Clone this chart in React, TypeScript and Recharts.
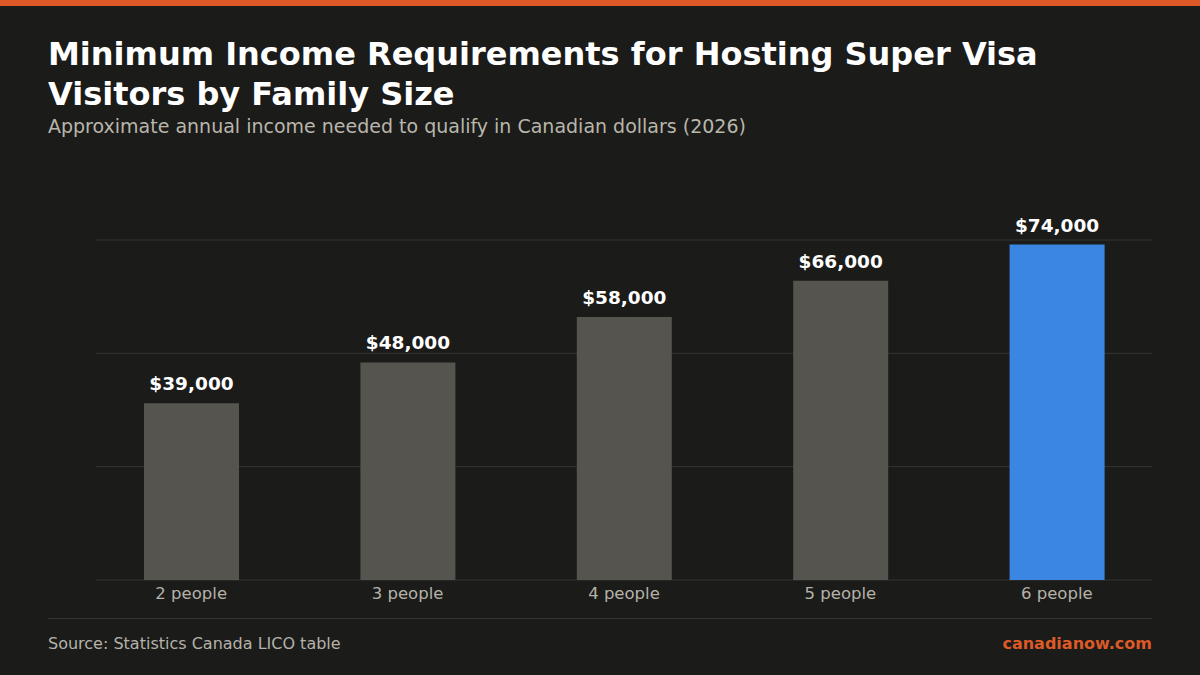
import { BarChart, Bar, XAxis, YAxis, CartesianGrid, Cell, LabelList } from "recharts";

const categories = ["2 people", "3 people", "4 people", "5 people", "6 people"];
const incomes = [39000, 48000, 58000, 66000, 74000];
const highlightIndex = 4;
const yTicks = [0, 25000, 50000, 75000];

const data = categories.map((name, i) => ({ name, income: incomes[i] }));

const BG = "#1b1b19";
const ORANGE = "#dd5a26";
const FONT = "'DejaVu Sans', sans-serif";

if (typeof document !== "undefined") {
  document.body.style.margin = "0";
  document.body.style.background = BG;
}

const fmt = (v: number) => "$" + v.toLocaleString("en-US");

export default function App() {
  return (
    <div style={{ position: "relative", width: 1200, height: 675, background: BG, fontFamily: FONT, overflow: "hidden" }}>
      <div style={{ position: "absolute", top: 0, left: 0, width: 1200, height: 6, background: ORANGE }} />
      <div
        style={{
          position: "absolute",
          left: 48,
          top: 34,
          width: 1080,
          color: "#ffffff",
          fontWeight: "bold",
          fontSize: 32,
          lineHeight: "40px",
        }}
      >
        Minimum Income Requirements for Hosting Super Visa Visitors by Family Size
      </div>
      <div style={{ position: "absolute", left: 48, top: 115, color: "#b9b6ac", fontSize: 19 }}>
        Approximate annual income needed to qualify in Canadian dollars (2026)
      </div>

      <div style={{ position: "absolute", left: 83, top: 200 }}>
        <BarChart width={1082} height={420} data={data} margin={{ top: 40, right: 0, bottom: 0, left: 0 }}>
          <CartesianGrid vertical={false} stroke="#353533" strokeWidth={1} x={13} width={1056} />
          <YAxis hide domain={[0, 75000]} ticks={yTicks} />
          <XAxis
            dataKey="name"
            height={40}
            axisLine={false}
            tickLine={false}
            tick={{ fill: "#b5b2a9", fontSize: 16.5, fontFamily: FONT }}
            dy={-1}
          />
          <Bar dataKey="income" barSize={95} isAnimationActive={false}>
            {data.map((d, i) => (
              <Cell key={d.name} fill={i === highlightIndex ? "#3a86e2" : "#55544f"} />
            ))}
            <LabelList
              dataKey="income"
              position="top"
              offset={13}
              formatter={(v: any) => fmt(Number(v))}
              style={{ fill: "#ffffff", fontSize: 18.5, fontWeight: "bold", fontFamily: FONT }}
            />
          </Bar>
        </BarChart>
      </div>

      <div style={{ position: "absolute", left: 48, top: 618, width: 1104, height: 1, background: "#353533" }} />
      <div style={{ position: "absolute", left: 48, top: 634, color: "#b5b2a9", fontSize: 16 }}>
        Source: Statistics Canada LICO table
      </div>
      <div style={{ position: "absolute", right: 48, top: 634, color: ORANGE, fontSize: 16, fontWeight: "bold" }}>
        canadianow.com
      </div>
    </div>
  );
}
